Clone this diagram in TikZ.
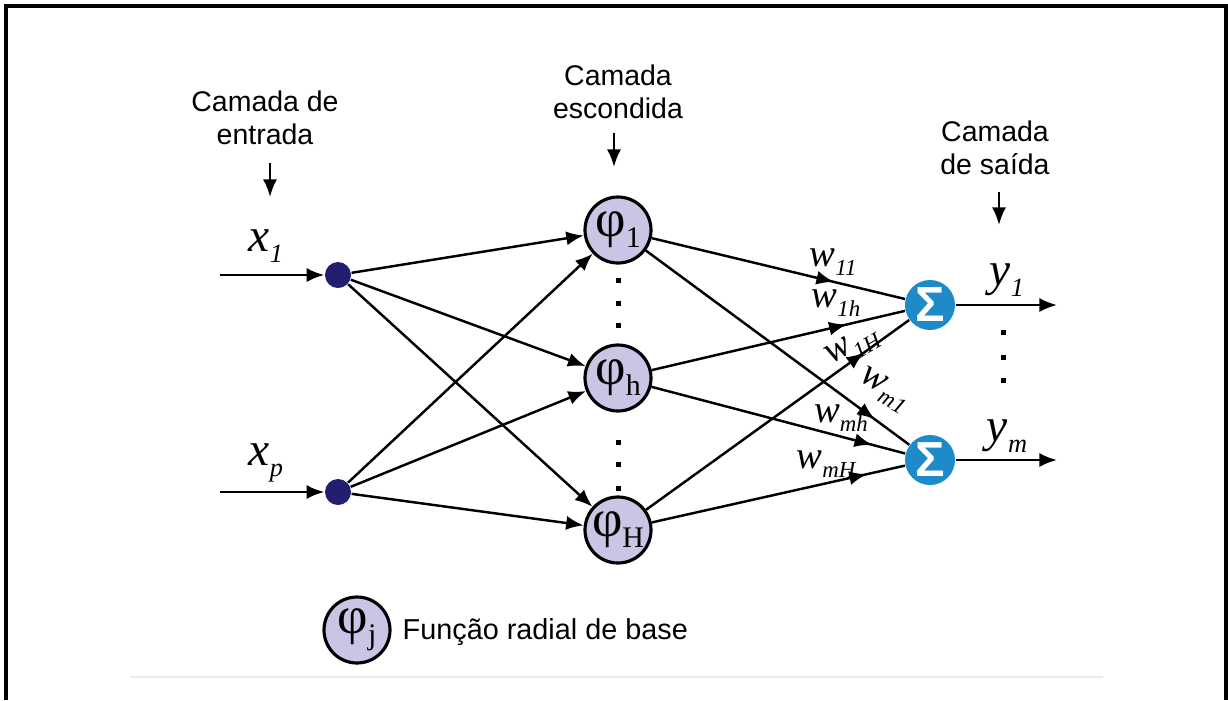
\documentclass[tikz,border=0pt]{standalone}
\usepackage{fontspec}
\setmainfont{Liberation Sans}
\newfontfamily\tnr{Liberation Serif}
\usetikzlibrary{arrows.meta,decorations.markings}
\definecolor{innavy}{RGB}{36,30,112}
\definecolor{rbflilac}{RGB}{204,196,228}
\definecolor{sumblue}{RGB}{30,138,200}
\newcommand{\phinode}[1]{{\tnr\fontsize{15}{15}\selectfont φ\raisebox{-3pt}{\fontsize{8.5}{8.5}\selectfont #1}}}
\newcommand{\sinalsub}[2]{#1\raisebox{-3pt}{\fontsize{7.5}{7.5}\selectfont #2}}
\newcommand{\pesosub}[1]{w\raisebox{-2.5pt}{\fontsize{6.5}{6.5}\selectfont #1}}
\tikzset{
  seta/.style={-{Latex[length=5pt,width=4pt]}},
  edge/.style={line width=0.7pt},
  midtip/.style={postaction={decorate},
    decoration={markings,mark=at position #1 with {\arrow{Latex[length=5pt,width=4pt]}}}},
  entrada/.style={circle,fill=innavy,minimum size=2.6mm,inner sep=0pt},
  rbf/.style={circle,draw,line width=0.9pt,fill=rbflilac,minimum size=6.6mm,inner sep=0pt},
  soma/.style={circle,fill=sumblue,minimum size=5mm,inner sep=0pt,text=white,
    font=\bfseries\fontsize{14}{14}\selectfont},
  camada/.style={align=center,inner sep=0pt,font=\fontsize{8.1}{9.4}\selectfont},
  peso/.style={inner sep=0pt,font=\tnr\itshape\fontsize{11}{11}\selectfont},
  sinal/.style={inner sep=0pt,font=\tnr\itshape\fontsize{13.5}{13.5}\selectfont}
}
\begin{document}
\begin{tikzpicture}[x=0.1mm,y=-0.1mm]
  \useasboundingbox (0,0) rectangle (1228,700);
  \draw[line width=1pt] (6,700) -- (6,6) -- (1226,6) -- (1226,700);
  \draw[black!8,line width=0.5pt] (130,677) -- (1103,677);

  % layer titles
  \node[camada] (tin) at (265,118) {Camada de\\entrada};
  \node[camada] (tesc) at (618,92) {Camada\\escondida};
  \node[camada] (tsai) at (995,148) {Camada\\de saída};
  \foreach \x/\ya/\yb [count=\k] in {270/163/197, 614/133/167, 999/192/225} {
    \coordinate (ta\k) at (\x,\ya);
    \coordinate (tb\k) at (\x,\yb);
    \draw[edge,seta] (ta\k) -- (tb\k);
  }

  % neurons
  \node[entrada] (x1) at (338,275) {};
  \node[entrada] (xp) at (338,492) {};
  \node[rbf] (h1) at (618,230) {\phinode{1}};
  \node[rbf] (hh) at (618,378) {\phinode{h}};
  \node[rbf] (hH) at (618,530) {\phinode{H}};
  \node[soma] (s1) at (930,305) {Σ};
  \node[soma] (sm) at (930,460) {Σ};

  % inputs and outputs
  \coordinate (e1) at (220,275);
  \coordinate (ep) at (220,492);
  \coordinate (o1) at (1057,305);
  \coordinate (om) at (1057,460);
  \draw[edge,seta] (e1) -- (x1);
  \draw[edge,seta] (ep) -- (xp);
  \draw[edge,seta] (s1) -- (o1);
  \draw[edge,seta] (sm) -- (om);
  \node[sinal] (lx1) at (266,246) {\sinalsub{x}{1}};
  \node[sinal] (lxp) at (266,463) {\sinalsub{x}{p}};
  \node[sinal] (ly1) at (1007,280) {\sinalsub{y}{1}};
  \node[sinal] (lym) at (1007,436) {\sinalsub{y}{m}};

  \foreach \i in {x1,xp}
    \foreach \h in {h1,hh,hH}
      \draw[edge,seta] (\i) -- (\h);
  \foreach \h/\s/\p in {h1/s1/0.72, hh/s1/0.77, hH/s1/0.83,
                        h1/sm/0.87, hh/sm/0.87, hH/sm/0.85}
    \draw[edge,midtip=\p] (\h) -- (\s);

  % weights
  \node[peso] (w11) at (833,262) {\pesosub{11}};
  \node[peso] (w1h) at (836,303) {\pesosub{1h}};
  \node[peso] (w1H) at (853,347) [rotate=30] {\pesosub{1H}};
  \node[peso] (wm1) at (884,390) [rotate=-30] {\pesosub{m1}};
  \node[peso] (wmh) at (841,418) {\pesosub{mh}};
  \node[peso] (wmH) at (826,464) {\pesosub{mH}};

  % dots
  \foreach \x/\y in {618/280, 618/303, 618/325, 618/442, 618/464, 618/488,
                     1003/332, 1003/357, 1003/380}
    \fill (\x-2.5,\y-2.5) rectangle ++(5,5);

  % legend
  \node[rbf] (leg) at (357,630) {\phinode{j}};
  \node[anchor=west,inner sep=0pt,font=\fontsize{8.2}{9.4}\selectfont] (legt) at (402,632) {Função radial de base};
\end{tikzpicture}
\end{document}
